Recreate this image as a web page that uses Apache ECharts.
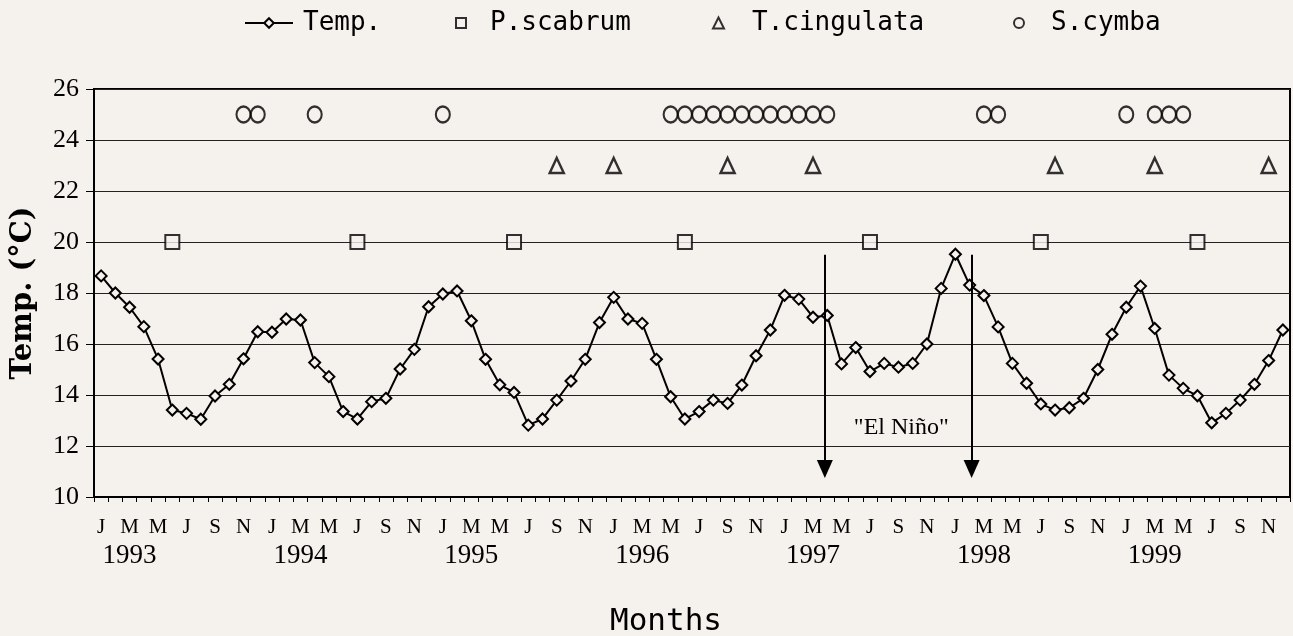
<!DOCTYPE html>
<html>
<head>
<meta charset="utf-8">
<script src="https://cdn.jsdelivr.net/npm/echarts@6/dist/echarts.min.js"></script>
<style>
html,body{margin:0;padding:0;background:#f5f1ed;}
#chart{width:1293px;height:636px;}
</style>
</head>
<body>
<div id="chart"></div>
<script>
// ---- data ----
var monthLetters = ['J','F','M','A','M','J','J','A','S','O','N','D'];
var years = ['1993','1994','1995','1996','1997','1998','1999'];
var temp = [
  18.67,18.0,17.44,16.68,15.41,13.41,13.28,13.05,13.96,14.42,15.42,16.48,
  16.46,16.98,16.94,15.27,14.72,13.35,13.06,13.74,13.87,15.02,15.79,17.46,
  17.96,18.08,16.91,15.4,14.4,14.1,12.82,13.06,13.8,14.55,15.4,16.84,
  17.83,16.98,16.81,15.4,13.93,13.06,13.35,13.8,13.67,14.39,15.54,16.55,
  17.91,17.76,17.05,17.12,15.22,15.86,14.92,15.24,15.09,15.24,16.0,18.18,
  19.52,18.31,17.9,16.67,15.24,14.46,13.65,13.41,13.5,13.87,15.0,16.38,
  17.44,18.27,16.61,14.78,14.26,13.97,12.91,13.28,13.8,14.42,15.35,16.55
];
// month indices (0 = Jan 1993) where each species was recorded
var pScabrumMonths = [5,18,29,41,54,66,77];
var tCingulataMonths = [32,36,44,50,67,74,82];
var sCymbaMonths = [10,11,15,24,40,41,42,43,44,45,46,47,48,49,50,51,62,63,72,74,75,76];
// plotted levels of the presence rows
var pScabrumLevel = 20, tCingulataLevel = 23, sCymbaLevel = 25;
// El Niño arrows (month positions) and annotation
var elNinoArrows = [50.83, 61.14];
var elNinoTop = 19.5, elNinoBottom = 11.1;
var elNinoLabelPos = [56.2, 12.7];

// ---- build ----
var categories = [];
years.forEach(function (y) { monthLetters.forEach(function (m) { categories.push(m + ' ' + y); }); });
function rows(idx, level) { return idx.map(function (i) { return [i, level]; }); }

var bg = '#f5f1ed';
var chart = echarts.init(document.getElementById('chart'), null, {renderer: 'canvas'});
function lt(pad) { return {fontFamily: 'DejaVu Sans Mono', fontSize: 26, color: '#000', padding: [0, 0, 0, pad]}; }
var legIcon = {borderWidth: 2, borderColor: '#000'};
chart.setOption({
  backgroundColor: bg,
  animation: false,
  legend: [
    {data: ['Temp.'], left: 244, top: 10, padding: 0, itemWidth: 48, itemHeight: 12, textStyle: lt(5)},
    {data: ['P.scabrum'], left: 455, top: 10, padding: 0, itemWidth: 10, itemHeight: 10, itemStyle: legIcon, textStyle: lt(19)},
    {data: ['T.cingulata'], left: 712, top: 10, padding: 0, itemWidth: 11, itemHeight: 11, itemStyle: legIcon, textStyle: lt(23)},
    {data: ['S.cymba'], left: 1013, top: 10, padding: 0, itemWidth: 10, itemHeight: 13, itemStyle: legIcon, textStyle: lt(22)}
  ],
  title: {
    text: 'Months', left: 605, top: 601,
    textStyle: {fontFamily: 'DejaVu Sans Mono', fontSize: 31, fontWeight: 'normal', color: '#000'}
  },
  grid: {left: 94, right: 3, top: 89, bottom: 139, show: true, borderColor: '#000', borderWidth: 2, backgroundColor: 'transparent'},
  xAxis: [{
    type: 'category', data: categories, boundaryGap: true,
    axisLine: {lineStyle: {color: '#000', width: 2}},
    axisTick: {show: true, interval: 0, length: 5, lineStyle: {color: '#000', width: 1}},
    axisLabel: {
      interval: 1, margin: 20, color: '#000',
      fontFamily: 'Liberation Serif', fontSize: 21,
      formatter: function (v, i) { return monthLetters[i % 12]; }
    },
    splitLine: {show: false}
  }, {
    type: 'value', min: -0.5, max: 83.5, show: false
  }, {
    type: 'category', data: categories, boundaryGap: true, position: 'bottom',
    axisLine: {show: false}, axisTick: {show: false}, splitLine: {show: false},
    axisLabel: {
      margin: 45, color: '#000', fontFamily: 'Liberation Serif', fontSize: 27,
      interval: function (i) { return i % 12 === 2; },
      formatter: function (v, i) { return years[Math.floor(i / 12)]; }
    }
  }],
  yAxis: {
    type: 'value', min: 10, max: 26, interval: 2,
    name: 'Temp. (\u00B0C)', nameLocation: 'middle', nameGap: 56, nameRotate: 90,
    nameTextStyle: {fontFamily: 'DejaVu Serif', fontWeight: 'bold', fontSize: 29, color: '#000'},
    axisLine: {show: true, onZero: false, lineStyle: {color: '#000', width: 2}},
    axisTick: {show: true, length: 8, lineStyle: {color: '#000', width: 1}},
    axisLabel: {fontFamily: 'Liberation Serif', fontSize: 26, color: '#000', margin: 15},
    splitLine: {show: true, lineStyle: {color: '#222', width: 1}}
  },
  series: [
    {
      name: 'Temp.', type: 'line', data: temp,
      symbol: 'diamond', symbolSize: 11, showAllSymbol: true,
      lineStyle: {color: '#000', width: 2},
      itemStyle: {color: bg, borderColor: '#000', borderWidth: 2},
      z: 3
    },
    {
      name: 'P.scabrum', type: 'scatter', data: rows(pScabrumMonths, pScabrumLevel),
      symbol: 'rect', symbolSize: 14,
      itemStyle: {color: bg, borderColor: '#000', borderWidth: 2}, z: 4
    },
    {
      name: 'T.cingulata', type: 'scatter', data: rows(tCingulataMonths, tCingulataLevel),
      symbol: 'triangle', symbolSize: [14, 15],
      itemStyle: {color: bg, borderColor: '#000', borderWidth: 2.5}, z: 4
    },
    {
      name: 'S.cymba', type: 'scatter', data: rows(sCymbaMonths, sCymbaLevel),
      symbol: 'circle', symbolSize: [14, 16],
      itemStyle: {color: 'transparent', borderColor: '#000', borderWidth: 2.2}, z: 4
    },
    {
      name: 'annotations', type: 'line', xAxisIndex: 1, data: [], silent: true,
      markLine: {
        silent: true, symbol: ['none', 'triangle'], symbolSize: [16, 18],
        label: {show: false},
        lineStyle: {color: '#000', width: 2, type: 'solid'},
        itemStyle: {color: '#000'},
        data: elNinoArrows.map(function (x) { return [{coord: [x, elNinoTop]}, {coord: [x, elNinoBottom]}]; })
      },
      markPoint: {
        silent: true, symbol: 'circle', symbolSize: 0,
        label: {show: true, position: 'inside', formatter: '"El Ni\u00F1o"', fontFamily: 'Liberation Serif', fontSize: 24, color: '#000'},
        data: [{coord: elNinoLabelPos}]
      }
    }
  ]
});
</script>
</body>
</html>
